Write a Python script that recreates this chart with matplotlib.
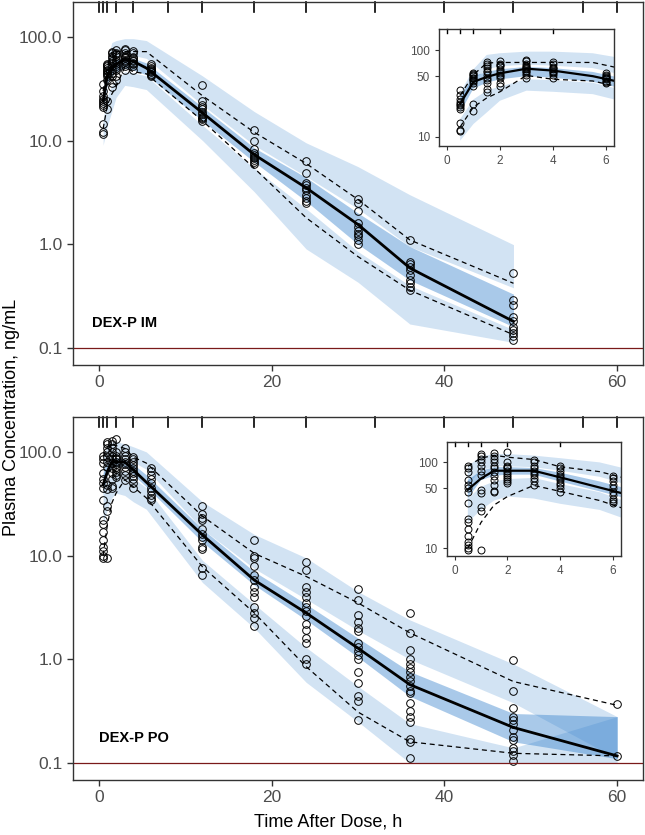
import matplotlib
matplotlib.use("Agg")
import matplotlib.pyplot as plt
from matplotlib.transforms import blended_transform_factory

plt.rcParams['font.family'] = ['Liberation Sans', 'DejaVu Sans']

# bin separators shown as rug ticks on top
bin_edges = [0, 0.5, 1, 2, 4, 8, 12, 18, 24, 32, 40, 48, 56, 60]

# ---------------- DEX-P IM ----------------
im_t = [0.5, 1, 1.5, 2, 3, 4, 5.5, 12, 18, 24, 30, 36, 48]
im_obs_med = [24, 43, 49, 54, 61, 58, 50, 18.5, 7.3, 3.5, 1.55, 0.59, 0.18]
im_obs_p95 = [30, 52, 71, 72, 72, 72, 72, 27, 12, 6.0, 2.7, 1.1, 0.42]
im_obs_p05 = [13, 22, 28, 33, 51, 46, 44, 15.5, 5.4, 1.8, 0.76, 0.36, 0.134]
im_hi_lo = [22, 45, 60, 65, 68, 66, 62, 22, 9.0, 4.5, 2.2, 0.95, 0.38]
im_hi_hi = [32, 60, 88, 92, 96, 96, 92, 42, 19, 9.5, 5.6, 3.0, 0.99]
im_med_lo = [19, 36, 42, 46, 50, 48, 43, 15.5, 6.2, 2.6, 1.0, 0.45, 0.16]
im_med_hi = [28, 50, 56, 60, 64, 62, 56, 21, 8.5, 4.4, 2.0, 0.95, 0.33]
im_lo_lo = [9, 14, 19, 26, 34, 33, 31, 10, 3.2, 0.9, 0.43, 0.17, 0.113]
im_lo_hi = [16, 27, 34, 38, 46, 45, 42, 14, 5.4, 2.2, 0.85, 0.4, 0.15]

im_obs_time = [0.5, 1, 1.5, 2, 3, 4, 6, 12, 18, 24, 30, 36, 48]
im_obs_conc = [
    [11.5, 12, 14.5, 21, 22, 23, 24, 25, 27, 30, 35],
    [20, 24, 38, 42, 44, 45, 47, 48, 50, 52, 53, 55],
    [33, 36, 42, 45, 48, 52, 56, 58, 62, 66, 70, 72],
    [38, 42, 48, 50, 52, 55, 57, 60, 65, 68, 70, 74],
    [48, 52, 55, 57, 58, 60, 62, 64, 66, 70, 74, 76],
    [48, 52, 55, 56, 58, 60, 62, 64, 70, 73],
    [42, 43, 44, 46, 47, 48, 49, 50, 52, 55],
    [34, 24, 22, 21, 20, 19, 18, 17, 16.5, 16, 15.5],
    [12.5, 10, 8.3, 7.5, 7.2, 7, 6.8, 6.5, 6.2, 6.0],
    [6.3, 4.9, 3.9, 3.7, 3.5, 3.3, 3.0, 2.8, 2.6, 2.5],
    [2.7, 2.5, 2.1, 1.6, 1.45, 1.35, 1.25, 1.2, 1.1, 1.0],
    [1.1, 0.68, 0.64, 0.6, 0.56, 0.5, 0.45, 0.42, 0.39, 0.36],
    [0.53, 0.29, 0.26, 0.2, 0.18, 0.16, 0.15, 0.14, 0.13, 0.12],
]

# ---------------- DEX-P PO ----------------
po_t = [0.5, 1, 1.5, 2, 3, 4, 5.5, 12, 18, 24, 30, 36, 48, 60]
po_obs_med = [48, 65, 80, 80, 80, 67, 51, 15.8, 5.8, 2.8, 1.28, 0.57, 0.22, 0.117]
po_obs_p95 = [90, 112, 121, 115, 108, 89, 78, 24, 10.5, 6.3, 3.5, 1.8, 0.61, 0.36]
po_obs_p05 = [10, 20, 32, 40, 54, 46, 36, 7.8, 2.8, 0.85, 0.31, 0.16, 0.124, 0.117]
po_hi_lo = [55, 80, 90, 90, 88, 80, 68, 18, 7.5, 3.8, 1.9, 1.0, 0.38, 0.11]
po_hi_hi = [90, 118, 125, 125, 120, 112, 100, 33, 16, 9.5, 4.5, 2.4, 0.9, 0.28]
po_med_lo = [38, 62, 70, 72, 72, 60, 46, 13.5, 5.2, 2.4, 1.05, 0.44, 0.16, 0.11]
po_med_hi = [62, 80, 88, 88, 86, 76, 60, 18, 7.0, 3.4, 1.6, 0.76, 0.3, 0.28]
po_lo_lo = [20, 28, 36, 40, 38, 33, 28, 5.5, 2.0, 0.6, 0.25, 0.1, 0.1, 0.1]
po_lo_hi = [38, 52, 60, 64, 66, 56, 45, 9, 3.4, 1.3, 0.55, 0.24, 0.14, 0.28]

po_obs_time = [0.5, 1, 1.5, 2, 3, 4, 6, 12, 18, 24, 30, 36, 48, 60]
po_obs_conc = [
    [92, 85, 78, 62, 55, 50, 45, 34, 22, 20, 17, 14, 12, 11, 10, 9.5],
    [125, 118, 110, 100, 90, 80, 72, 48, 44, 30, 27, 9.5],
    [128, 120, 110, 100, 92, 85, 78, 70, 62, 55, 47, 45],
    [133, 100, 92, 88, 85, 80, 76, 72, 68, 64, 60, 57],
    [108, 100, 92, 86, 80, 76, 72, 66, 60, 54],
    [90, 85, 80, 74, 70, 66, 62, 58, 55, 50, 45],
    [70, 65, 60, 55, 50, 45, 42, 38, 36, 34],
    [30, 25, 23, 22, 18, 16, 15, 14, 12, 11.5, 7.6, 6.5],
    [14, 10, 9.5, 8, 6.5, 5.8, 5, 4.5, 4, 3.2, 2.8, 2.5, 2.1],
    [8.7, 7.2, 5.0, 4.5, 4.0, 3.5, 3.2, 2.9, 2.6, 2.2, 1.9, 1.6, 1.45, 1.0, 0.9],
    [4.8, 3.7, 2.7, 2.3, 2.0, 1.86, 1.45, 1.3, 1.2, 1.1, 1.0, 0.76, 0.59, 0.44, 0.4, 0.26],
    [2.8, 1.8, 1.23, 1.0, 0.9, 0.82, 0.75, 0.68, 0.62, 0.55, 0.5, 0.47, 0.38, 0.32,
     0.28, 0.25, 0.17, 0.16, 0.112],
    [0.98, 0.5, 0.34, 0.28, 0.26, 0.24, 0.21, 0.18, 0.165, 0.14, 0.13, 0.12, 0.105],
    [0.37, 0.117],
]

lloq = 0.1
band_col = '#3380cc'
grey = '#4d4d4d'


def draw(ax, t, bands, med, p95, p05, obs_t, obs_c, inset=False):
    hi_lo, hi_hi, med_lo, med_hi, lo_lo, lo_hi = bands
    ax.fill_between(t, hi_lo, hi_hi, color=band_col, alpha=0.22, lw=0)
    ax.fill_between(t, lo_lo, lo_hi, color=band_col, alpha=0.22, lw=0)
    ax.fill_between(t, med_lo, med_hi, color=band_col, alpha=0.42, lw=0)
    ax.plot(t, med, color='black', lw=2 if not inset else 1.6)
    ax.plot(t, p95, color='black', lw=0.9, ls=(0, (4, 3)))
    ax.plot(t, p05, color='black', lw=0.9, ls=(0, (4, 3)))
    for tt, cc in zip(obs_t, obs_c):
        ax.plot([tt] * len(cc), cc, 'o', mfc='none', mec='black',
                ms=5.5 if not inset else 5, mew=0.7)
    ax.set_yscale('log')
    ax.minorticks_off()
    for s in ax.spines.values():
        s.set_color('#333333')
        s.set_linewidth(1.0)
    trans = blended_transform_factory(ax.transData, ax.transAxes)
    rug_len = 0.028 if not inset else 0.035
    for e in bin_edges:
        if inset and e > 6:
            continue
        ax.plot([e, e], [1, 1 - rug_len], color='black', lw=1.2 if not inset else 1.0,
                transform=trans, clip_on=False)


fig = plt.figure(figsize=(6.45, 8.35), dpi=100)

panels = [
    (im_t, (im_hi_lo, im_hi_hi, im_med_lo, im_med_hi, im_lo_lo, im_lo_hi),
     im_obs_med, im_obs_p95, im_obs_p05, im_obs_time, im_obs_conc, 'DEX-P IM',
     [0.113, 0.563, 0.884, 0.4347], [0.6806, 0.8251, 0.2713, 0.1401], (7.8, 175)),
    (po_t, (po_hi_lo, po_hi_hi, po_med_lo, po_med_hi, po_lo_lo, po_lo_hi),
     po_obs_med, po_obs_p95, po_obs_p05, po_obs_time, po_obs_conc, 'DEX-P PO',
     [0.113, 0.0659, 0.884, 0.4347], [0.6926, 0.3341, 0.2698, 0.1369], (8.14, 174)),
]

for t, bands, med, p95, p05, ot, oc, label, pos, ipos, iylim in panels:
    ax = fig.add_axes(pos)
    draw(ax, t, bands, med, p95, p05, ot, oc)
    ax.axhline(lloq, color='#7a1a1a', lw=0.9)
    ax.set_xlim(-3, 63)
    ax.set_ylim(0.0686, 217)
    ax.set_yticks([0.1, 1, 10, 100])
    ax.set_yticklabels(['0.1', '1.0', '10.0', '100.0'])
    ax.set_xticks([0, 20, 40, 60])
    ax.tick_params(labelsize=12.5, labelcolor=grey, color='#333333', length=4, width=1)
    ax.text(-0.8 if label.endswith('IM') else 0.0, 0.175, label, fontsize=10.5,
            fontweight='bold', va='center', ha='left')

    axi = fig.add_axes(ipos)
    draw(axi, t, bands, med, p95, p05, ot, oc, inset=True)
    axi.set_xlim(-0.3, 6.3)
    axi.set_ylim(*iylim)
    axi.set_yticks([10, 50, 100])
    axi.set_yticklabels(['10', '50', '100'])
    axi.set_xticks([0, 2, 4, 6])
    axi.tick_params(labelsize=8.5, labelcolor=grey, color='#333333', length=3, width=0.8)
    axi.patch.set_facecolor('white')

fig.text(0.018, 0.5, 'Plasma Concentration, ng/mL', rotation=90, ha='center',
         va='center', fontsize=13)
fig.text(0.509, 0.016, 'Time After Dose, h', ha='center', va='center', fontsize=13)

fig.savefig('out.png', dpi=100)
